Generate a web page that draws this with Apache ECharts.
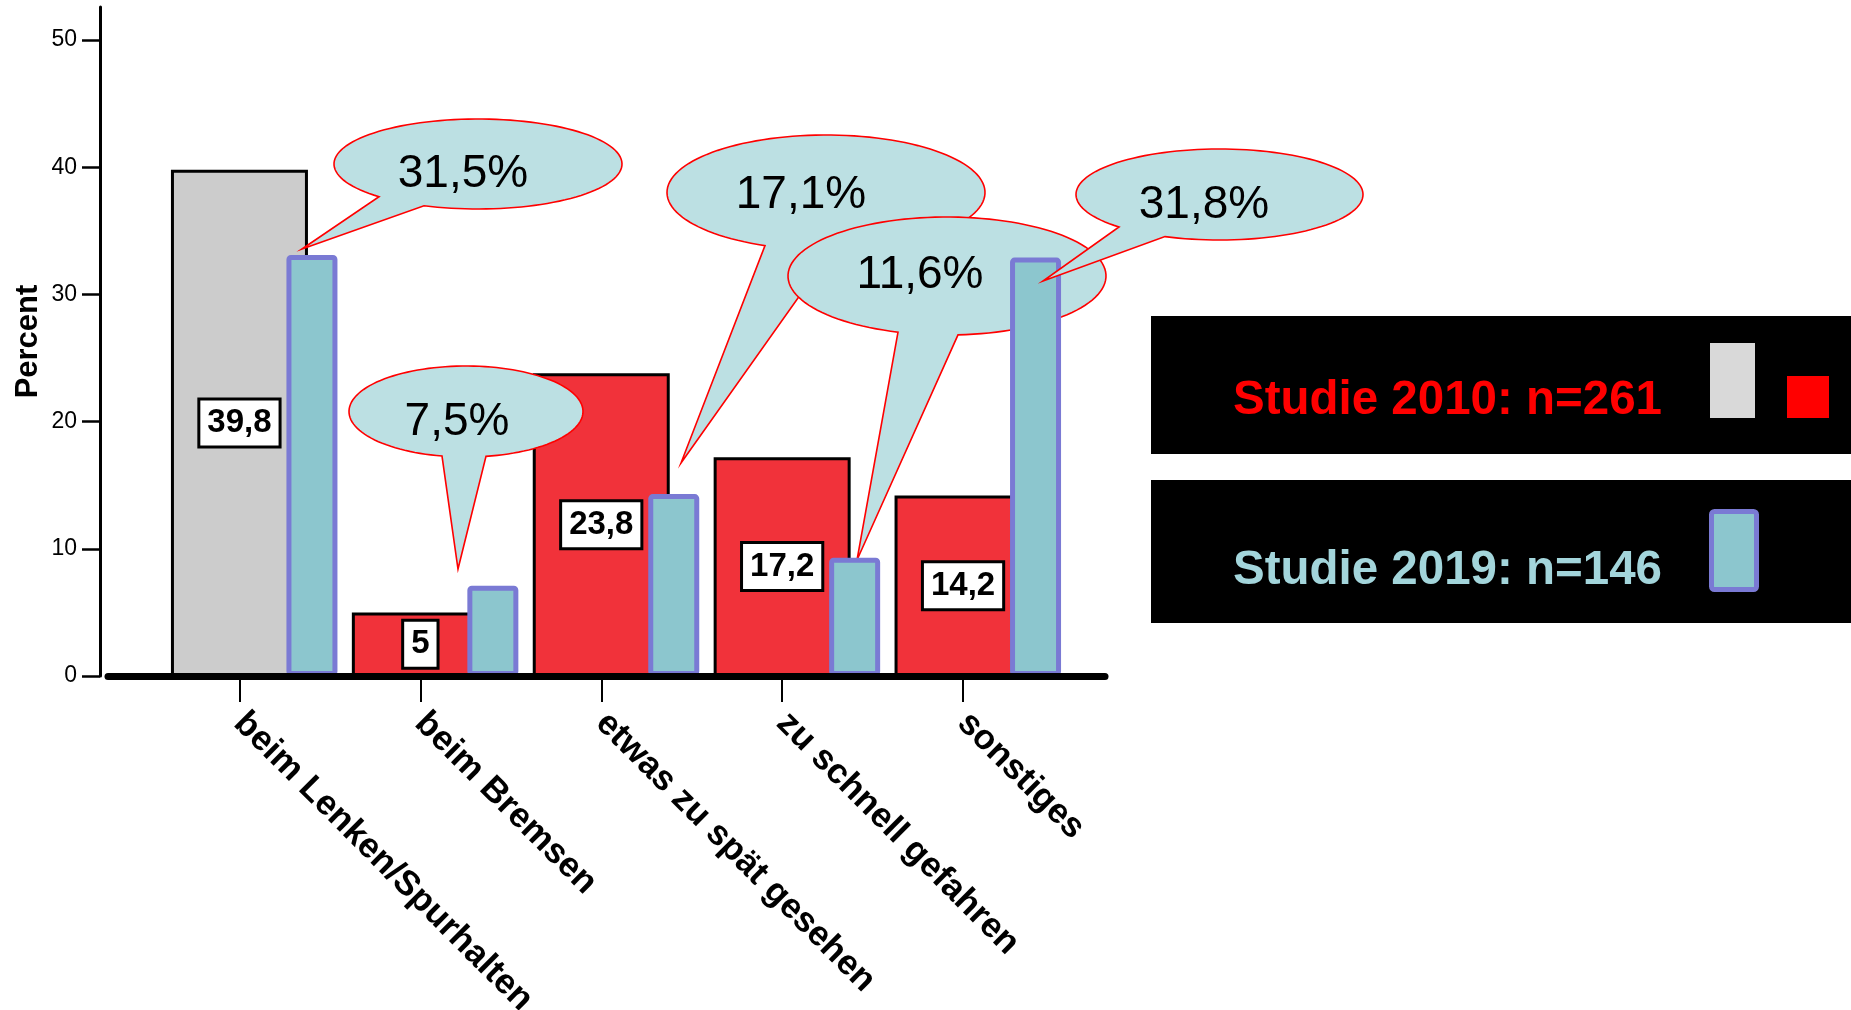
<!DOCTYPE html>
<html><head><meta charset="utf-8">
<script src="https://cdn.jsdelivr.net/npm/echarts@6/dist/echarts.min.js"></script>
<style>html,body{margin:0;padding:0;background:#fff}#c{width:1851px;height:1010px}</style>
</head><body><div id="c"></div>
<script>
// ---- data ----
const categories = ['beim Lenken/Spurhalten', 'beim Bremsen', 'etwas zu spät gesehen', 'zu schnell gefahren', 'sonstiges'];
const values2010 = [39.8, 5, 23.8, 17.2, 14.2];
const values2019 = [33.1, 7.1, 14.3, 9.3, 32.9];
const callouts2019 = ['31,5%', '7,5%', '17,1%', '11,6%', '31,8%'];
const yTicks = [0, 10, 20, 30, 40, 50];
const yMax = 52.6;
const legendLabels = ['Studie 2010: n=261', 'Studie 2019: n=146'];

// ---- layout / style ----
const FONT = '"Liberation Sans", Arial, Helvetica, sans-serif';
const TOP = 7, BOTTOM = 334;
const GRAY = '#cccccc', RED = '#f1323a', TEAL = '#8cc6ce', TEAL_BORDER = '#7a7ad4';
const BUBBLE_FILL = '#bce0e3';

// callout layout (annotation geometry, pixels)
const bubbleLayout = [
  {cx: 478, cy: 164, rx: 144, ry: 45, ax: 379, bx: 424, tip: [302, 249], tx: 463, ty: 174, z: 3, z2: 0},
  {cx: 466, cy: 411.5, rx: 117, ry: 45.5, ax: 442, bx: 486, tip: [458, 569], tx: 457, ty: 422, z: 3, z2: 1},
  {cx: 826, cy: 192.5, rx: 159, ry: 57.5, ax: 765, bx: 832, tip: [681, 463], tx: 801, ty: 195, z: 1, z2: 0},
  {cx: 947, cy: 276, rx: 159, ry: 59, ax: 898, bx: 958, tip: [857, 560], tx: 920, ty: 275, z: 1, z2: 2},
  {cx: 1219.5, cy: 194.5, rx: 143.5, ry: 45.5, ax: 1119, bx: 1165, tip: [1043, 281], tx: 1204, ty: 205, z: 3, z2: 2}
];

function bubblePoints(b) {
  const angA = Math.acos(Math.max(-1, Math.min(1, (b.ax - b.cx) / b.rx)));
  const angB = Math.acos(Math.max(-1, Math.min(1, (b.bx - b.cx) / b.rx)));
  const pts = [b.tip];
  const start = angB, end = angA - 2 * Math.PI;
  const n = 120;
  for (let i = 0; i <= n; i++) {
    const t = start + (end - start) * i / n;
    pts.push([b.cx + b.rx * Math.cos(t), b.cy + b.ry * Math.sin(t)]);
  }
  return pts;
}

const graphics = [];
bubbleLayout.forEach((b, i) => {
  graphics.push({
    type: 'polygon', z: b.z, z2: b.z2 * 2,
    shape: {points: bubblePoints(b)},
    style: {fill: BUBBLE_FILL, stroke: '#ff0000', lineWidth: 1.6}
  });
  graphics.push({
    type: 'text', z: b.z, z2: b.z2 * 2 + 1, x: b.tx, y: b.ty,
    style: {text: callouts2019[i], fill: '#000', font: '46px ' + FONT, textAlign: 'center', textVerticalAlign: 'middle'}
  });
});

// legend boxes
graphics.push(
  {type: 'rect', shape: {x: 1151, y: 316, width: 720, height: 138}, style: {fill: '#000'}, z: 5},
  {type: 'rect', shape: {x: 1151, y: 480, width: 720, height: 143}, style: {fill: '#000'}, z: 5},
  {type: 'text', x: 1233, y: 401, z: 6, style: {text: legendLabels[0], fill: '#ff0000', font: 'bold 47.5px ' + FONT, textAlign: 'left', textVerticalAlign: 'middle'}},
  {type: 'text', x: 1233, y: 571, z: 6, style: {text: legendLabels[1], fill: '#a3d5db', font: 'bold 47.5px ' + FONT, textAlign: 'left', textVerticalAlign: 'middle'}},
  {type: 'rect', shape: {x: 1710, y: 343, width: 45, height: 75}, style: {fill: '#d9d9d9'}, z: 6},
  {type: 'rect', shape: {x: 1787, y: 376, width: 42, height: 42}, style: {fill: '#ff0000'}, z: 6},
  {type: 'rect', shape: {x: 1711.5, y: 511.5, width: 45, height: 78, r: 3}, style: {fill: TEAL, stroke: TEAL_BORDER, lineWidth: 5}, z: 6}
);

const chart = echarts.init(document.getElementById('c'), null, {renderer: 'canvas'});
chart.setOption({
  animation: false,
  backgroundColor: '#fff',
  textStyle: {fontFamily: FONT},
  grid: [
    {left: 149, right: 797.5, top: TOP, bottom: BOTTOM, containLabel: false, outerBoundsMode: 'none'},
    {left: 221.5, right: 725, top: TOP, bottom: BOTTOM, containLabel: false, outerBoundsMode: 'none'},
    {left: 108, right: 746, top: TOP, bottom: BOTTOM, containLabel: false, outerBoundsMode: 'none'}
  ],
  xAxis: [
    {
      type: 'category', gridIndex: 0, data: categories,
      axisLine: {show: false},
      axisTick: {show: true, alignWithLabel: true, length: 26, lineStyle: {color: '#000', width: 2}},
      axisLabel: {rotate: -45, interval: 0, margin: 42, color: '#000', fontSize: 35, fontWeight: 'bold', fontFamily: FONT},
      splitLine: {show: false}
    },
    {type: 'category', gridIndex: 1, data: categories, show: false},
    {
      type: 'value', gridIndex: 2, min: 0, max: 1, z: 10,
      axisLine: {show: true, onZero: false, lineStyle: {color: '#000', width: 7}},
      axisTick: {show: false}, axisLabel: {show: false}, splitLine: {show: false}
    }
  ],
  yAxis: [
    {
      type: 'value', gridIndex: 0, min: 0, max: yMax, interval: 10, offset: 49,
      name: 'Percent', nameLocation: 'middle', nameGap: 56,
      nameTextStyle: {color: '#000', fontSize: 31, fontWeight: 'bold', fontFamily: FONT},
      axisLine: {show: true, lineStyle: {color: '#000', width: 3}},
      axisTick: {show: true, length: 18, customValues: yTicks, lineStyle: {color: '#000', width: 2.5}},
      axisLabel: {customValues: yTicks, margin: 23, color: '#000', fontSize: 23, fontFamily: FONT},
      splitLine: {show: false}
    },
    {type: 'value', gridIndex: 1, min: 0, max: yMax, show: false, splitLine: {show: false}},
    {type: 'value', gridIndex: 2, min: 0, max: yMax, show: false, splitLine: {show: false}}
  ],
  series: [
    {
      name: 'Studie 2010', type: 'bar', xAxisIndex: 0, yAxisIndex: 0, data: values2010,
      barWidth: 137, z: 2,
      itemStyle: {
        color: p => (p.dataIndex === 0 ? GRAY : RED),
        borderColor: '#000', borderWidth: 3
      },
      label: {
        show: true, position: 'inside',
        formatter: p => String(p.value).replace('.', ','),
        backgroundColor: '#fff', borderColor: '#000', borderWidth: 3,
        padding: [4, 7], color: '#000', fontSize: 33, fontWeight: 'bold', lineHeight: 37, fontFamily: FONT
      }
    },
    {
      name: 'Studie 2019', type: 'bar', xAxisIndex: 1, yAxisIndex: 1, data: values2019,
      barWidth: 51, z: 2,
      itemStyle: {color: TEAL, borderColor: TEAL_BORDER, borderWidth: 5, borderRadius: 2}
    }
  ],
  graphic: graphics
});
</script>
</body></html>
